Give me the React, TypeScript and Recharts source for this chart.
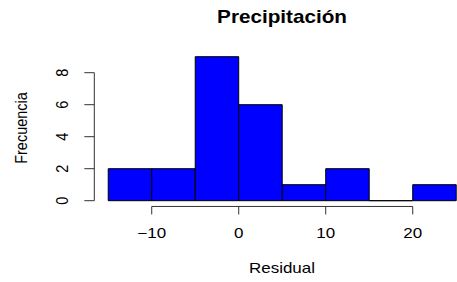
import { Bar, BarChart, ReferenceLine, XAxis, YAxis } from "recharts";

// histogram of residuals, bins of width 5
const binStarts = [-15, -10, -5, 0, 5, 10, 15, 20];
const counts = [2, 2, 9, 6, 1, 2, 0, 1];
const binWidth = 5;
const xTicks = [-10, 0, 10, 20];
const yTicks = [0, 2, 4, 6, 8];

const data = binStarts.map((s, i) => ({ mid: s + binWidth / 2, count: counts[i] }));

// R pads the axis range by 4%
const xLo = binStarts[0];
const xHi = binStarts[binStarts.length - 1] + binWidth;
const xPad = (xHi - xLo) * 0.04;
const yHi = Math.max(...counts);
const yPad = yHi * 0.04;
const X_MIN = xLo - xPad;
const X_MAX = xHi + xPad;
const Y_MIN = -yPad;
const Y_MAX = yHi + yPad;

const FONT = "'Liberation Sans', Arial, Helvetica, sans-serif";
const STRETCH = 1.17;
const AXIS = "#333";

const fmt = (v: number) => (v < 0 ? "\u2212" + Math.abs(v) : String(v));

function XTick({ x, y, payload }: any) {
  return (
    <text
      transform={`translate(${x},${y}) scale(${STRETCH},1)`}
      textAnchor="middle"
      fontSize={14.5}
      fontFamily={FONT}
      fill="#000"
    >
      {fmt(payload.value)}
    </text>
  );
}

function YTick({ x, y, payload }: any) {
  return (
    <text
      transform={`translate(${x},${y}) scale(${STRETCH},1) rotate(-90)`}
      textAnchor="middle"
      fontSize={14.5}
      fontFamily={FONT}
      fill="#000"
    >
      {payload.value}
    </text>
  );
}

function HistBar({ x, y, width, height }: any) {
  const d = `M${x},${y} h${width} v${height} h${-width} Z`;
  return <path d={d} fill="#0000FF" stroke="#000" strokeWidth={1} />;
}

export default function App() {
  return (
    <div style={{ position: "absolute", left: 0, top: 0, width: 457, height: 282, overflow: "hidden", background: "#fff" }}>
      <BarChart
        width={480}
        height={282}
        data={data}
        margin={{ top: 50.94, right: 9.86, bottom: 35.54, left: 0 }}
        barCategoryGap={0}
        barGap={0}
      >
        <XAxis
          dataKey="mid"
          type="number"
          domain={[X_MIN, X_MAX]}
          ticks={xTicks}
          allowDataOverflow
          axisLine={false}
          tickLine={{ stroke: AXIS }}
          tickSize={8}
          tickMargin={24}
          height={40}
          tick={<XTick />}
          interval={0}
        />
        <YAxis
          type="number"
          domain={[Y_MIN, Y_MAX]}
          ticks={yTicks}
          allowDataOverflow
          axisLine={false}
          tickLine={{ stroke: AXIS }}
          tickSize={10}
          tickMargin={16}
          width={94.3}
          tick={<YTick />}
          interval={0}
        />
        <Bar dataKey="count" barSize={43.49} shape={<HistBar />} isAnimationActive={false} />
        <ReferenceLine
          segment={[{ x: xTicks[0], y: Y_MIN }, { x: xTicks[xTicks.length - 1], y: Y_MIN }]}
          stroke={AXIS}
          ifOverflow="visible"
        />
        <ReferenceLine
          segment={[{ x: X_MIN, y: yTicks[0] }, { x: X_MIN, y: yTicks[yTicks.length - 1] }]}
          stroke={AXIS}
          ifOverflow="visible"
        />
      </BarChart>
      <svg width={457} height={282} style={{ position: "absolute", left: 0, top: 0, pointerEvents: "none" }}>
        <text
          transform={`translate(282,22.7) scale(1.15,1)`}
          textAnchor="middle"
          fontSize={18}
          fontWeight="bold"
          fontFamily={FONT}
          fill="#000"
        >
          Precipitación
        </text>
        <text
          transform={`translate(282,272.7) scale(${STRETCH},1)`}
          textAnchor="middle"
          fontSize={14.5}
          fontFamily={FONT}
          fill="#000"
        >
          Residual
        </text>
        <text
          transform={`translate(27,128) scale(${STRETCH},1) rotate(-90)`}
          textAnchor="middle"
          fontSize={14.5}
          fontFamily={FONT}
          fill="#000"
        >
          Frecuencia
        </text>
      </svg>
    </div>
  );
}
